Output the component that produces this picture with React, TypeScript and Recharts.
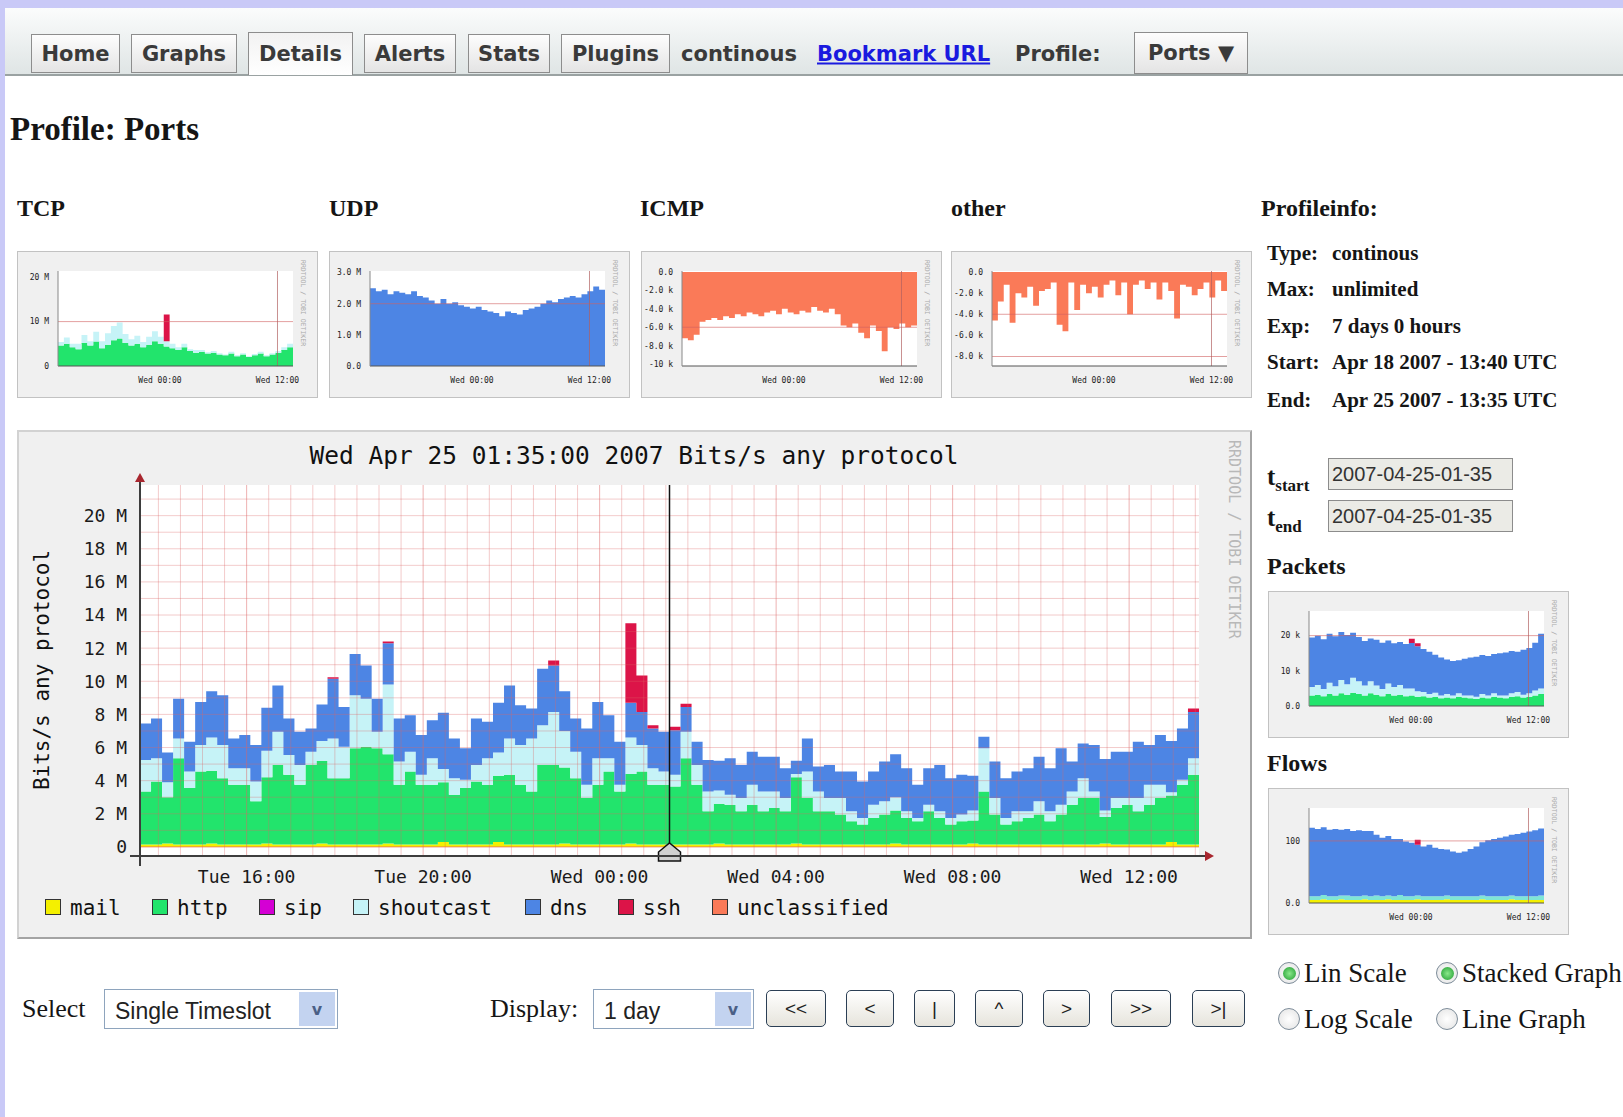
import React from "react";
import { AreaChart, Area, XAxis, YAxis, ReferenceLine, CartesianGrid } from "recharts";

const MONO = "'DejaVu Sans Mono', monospace";
const SERIF = "'Liberation Serif', 'Times New Roman', serif";
const SANS = "'DejaVu Sans', Verdana, sans-serif";
const ARIAL = "'Liberation Sans', Arial, sans-serif";

// main graph: minutes after Tue 13:35, one sample per 15 minutes
const stepMin = 15;
const spanMin = 1440;
const cursorMin = 720;
const timeTicks = [145, 385, 625, 865, 1105, 1345];
const timeLabels = ["Tue 16:00", "Tue 20:00", "Wed 00:00", "Wed 04:00", "Wed 08:00", "Wed 12:00"];
const valueTicks = [0, 2, 4, 6, 8, 10, 12, 14, 16, 18, 20];
const valueLabels = ["0", "2 M", "4 M", "6 M", "8 M", "10 M", "12 M", "14 M", "16 M", "18 M", "20 M"];

// Mbit/s per protocol
const mail = [
  0.15, 0.15, 0.2, 0.15, 0.15, 0.15, 0.2, 0.15, 0.15, 0.15,
  0.15, 0.2, 0.15, 0.15, 0.15, 0.15, 0.2, 0.15, 0.15, 0.15,
  0.15, 0.15, 0.2, 0.15, 0.15, 0.15, 0.15, 0.3, 0.15, 0.15,
  0.15, 0.15, 0.3, 0.15, 0.15, 0.15, 0.15, 0.15, 0.2, 0.15,
  0.15, 0.15, 0.15, 0.15, 0.2, 0.15, 0.15, 0.15, 0.15, 0.15,
  0.15, 0.15, 0.2, 0.15, 0.15, 0.15, 0.15, 0.15, 0.15, 0.2,
  0.15, 0.15, 0.15, 0.15, 0.15, 0.15, 0.15, 0.15, 0.2, 0.15,
  0.15, 0.15, 0.15, 0.15, 0.15, 0.2, 0.15, 0.15, 0.15, 0.15,
  0.15, 0.15, 0.15, 0.15, 0.15, 0.15, 0.15, 0.2, 0.15, 0.15,
  0.15, 0.15, 0.15, 0.3, 0.15, 0.15,
];
const http = [
  3.2, 3.8, 2.8, 5.2, 3.4, 4.4, 4.4, 4.0, 3.6, 3.6,
  2.6, 4.0, 4.8, 4.2, 3.6, 4.8, 5.0, 4.0, 4.0, 5.8,
  5.9, 5.8, 5.4, 3.6, 4.4, 3.6, 3.6, 3.6, 3.0, 3.4,
  3.8, 3.6, 4.0, 4.2, 3.6, 3.2, 4.8, 4.8, 4.6, 4.0,
  2.8, 3.6, 4.4, 3.2, 4.2, 4.4, 3.6, 3.6, 3.5, 5.2,
  3.6, 2.0, 2.4, 2.4, 2.0, 2.4, 2.0, 2.2, 2.0, 4.0,
  2.8, 2.0, 2.0, 1.8, 1.4, 1.2, 1.6, 1.8, 2.0, 1.6,
  1.4, 2.0, 1.6, 1.2, 1.4, 1.4, 3.2, 1.8, 1.2, 1.4,
  1.6, 1.8, 1.4, 1.8, 2.4, 2.8, 2.8, 1.6, 2.2, 2.4,
  2.0, 2.4, 2.8, 2.8, 3.6, 4.2,
];
const shoutcast = [
  1.9, 1.4, 0.9, 1.2, 1.0, 1.6, 2.0, 2.0, 1.0, 1.0,
  1.2, 1.6, 2.0, 1.2, 1.2, 0.8, 1.2, 2.4, 1.9, 3.2,
  2.9, 1.0, 4.2, 1.4, 1.2, 0.6, 1.6, 0.8, 1.0, 0.5,
  1.0, 1.6, 1.4, 2.2, 2.4, 3.2, 2.4, 3.2, 2.2, 1.6,
  0.8, 1.6, 0.8, 0.4, 2.2, 1.6, 1.0, 0.8, 0.7, 1.6,
  1.2, 1.2, 0.8, 0.6, 0.8, 1.2, 1.2, 1.0, 0.8, 0.2,
  1.6, 1.2, 0.8, 1.0, 0.6, 0.4, 0.8, 0.8, 0.8, 0.4,
  0.2, 0.4, 0.4, 0.4, 0.4, 0.6, 2.6, 1.0, 0.4, 0.6,
  0.4, 0.8, 0.6, 0.6, 0.8, 1.2, 0.4, 0.4, 0.6, 0.4,
  0.8, 1.2, 0.8, 0.2, 0.3, 1.0,
];
const dns = [
  2.2, 2.4, 1.8, 2.4, 1.8, 2.6, 2.8, 3.0, 1.8, 2.0,
  2.2, 2.6, 2.8, 2.2, 2.0, 1.4, 2.2, 3.6, 2.4, 2.5,
  2.0, 2.0, 2.5, 2.6, 2.2, 2.4, 2.3, 3.4, 2.4, 1.9,
  2.8, 2.2, 3.0, 3.2, 2.4, 1.8, 3.4, 2.8, 2.4, 2.0,
  3.4, 3.4, 2.6, 2.6, 2.1, 2.0, 2.4, 2.4, 2.7, 1.5,
  1.4, 1.9, 1.8, 2.2, 2.0, 2.0, 2.1, 2.1, 1.8, 0.8,
  2.0, 1.5, 2.0, 1.6, 2.4, 2.2, 2.0, 2.4, 2.6, 2.6,
  2.0, 2.2, 2.8, 2.4, 2.4, 2.1, 0.7, 2.2, 2.4, 2.4,
  2.6, 2.7, 2.6, 3.4, 1.8, 2.1, 2.8, 3.1, 2.8, 2.8,
  3.4, 2.4, 3.0, 3.1, 3.1, 2.8,
];
const ssh = [
  0, 0, 0, 0, 0, 0, 0, 0, 0, 0,
  0, 0, 0, 0, 0, 0, 0, 0.1, 0, 0,
  0, 0, 0.1, 0, 0, 0, 0, 0, 0, 0,
  0, 0, 0, 0, 0, 0, 0, 0.3, 0, 0,
  0, 0, 0, 0, 4.8, 2.2, 0.2, 0, 0.2, 0.2,
  0, 0, 0, 0, 0, 0, 0, 0, 0, 0,
  0, 0, 0, 0, 0, 0, 0, 0, 0, 0,
  0, 0, 0, 0, 0, 0, 0, 0, 0, 0,
  0, 0, 0, 0, 0, 0, 0, 0, 0, 0,
  0, 0, 0, 0, 0, 0.2,
];

const COLORS: Record<string, string> = {
  mail: "#f4f000",
  http: "#22e46c",
  sip: "#d400d4",
  shoutcast: "#c6f3f7",
  dns: "#4d85e4",
  ssh: "#dc1448",
  unclassified: "#fa7a58",
};
const legendNames = ["mail", "http", "sip", "shoutcast", "dns", "ssh", "unclassified"];
const legendX = [45, 152, 259, 353, 525, 618, 712];

// thumbnails: one sample per 36 minutes over the same day
const thumbStep = 36;
const thumbTicks = [625, 1345];
const thumbLabels = ["Wed 00:00", "Wed 12:00"];

const tcpHttp = [4.6, 5.0, 4.2, 3.8, 5.2, 4.6, 5.5, 4.0, 4.8, 5.8, 6.2, 5.2, 4.6, 5.0, 4.2, 4.8, 5.6, 5.0, 4.4, 4.0, 3.6, 4.2, 3.4, 3.0, 3.2, 2.8, 3.0, 2.6, 2.4, 2.8, 2.2, 2.6, 2.0, 2.4, 2.8, 2.2, 2.6, 3.0, 3.6, 4.2];
const tcpShout = [0.8, 1.4, 0.8, 1.2, 1.8, 1.0, 2.2, 1.6, 2.6, 3.2, 3.6, 2.0, 1.4, 1.8, 1.2, 1.8, 2.2, 1.6, 1.2, 1.0, 0.6, 0.8, 0.4, 0.6, 0.4, 0.3, 0.4, 0.3, 0.2, 0.4, 0.2, 0.3, 0.2, 0.3, 0.4, 0.2, 0.3, 0.4, 0.6, 0.8];
const tcpSsh = [0, 0, 0, 0, 0, 0, 0, 0, 0, 0, 0, 0, 0, 0, 0, 0, 0, 0, 6.0, 0, 0, 0, 0, 0, 0, 0, 0, 0, 0, 0, 0, 0, 0, 0, 0, 0, 0, 0, 0, 0];
const udpDns = [2.5, 2.4, 2.45, 2.3, 2.4, 2.35, 2.3, 2.4, 2.25, 2.2, 2.1, 2.0, 2.15, 2.0, 2.05, 1.95, 1.9, 1.85, 1.9, 1.8, 1.75, 1.7, 1.6, 1.75, 1.7, 1.65, 1.8, 1.85, 1.9, 2.0, 2.1, 2.05, 2.15, 2.2, 2.25, 2.2, 2.3, 2.4, 2.55, 2.45];
const icmpOther = [-7.2, -7.4, -6.8, -5.4, -5.2, -5.0, -5.2, -4.8, -5.0, -4.6, -4.8, -4.4, -4.6, -4.8, -4.4, -4.2, -4.6, -4.0, -4.4, -4.6, -4.2, -4.4, -3.8, -4.2, -4.4, -4.0, -4.6, -5.8, -6.0, -5.6, -6.6, -7.2, -5.8, -6.4, -8.6, -6.0, -6.2, -5.6, -6.0, -5.8];
const otherOther = [-4.6, -2.8, -1.2, -4.8, -2.0, -2.4, -1.4, -3.2, -1.8, -1.6, -1.0, -5.0, -5.6, -1.0, -3.6, -1.2, -2.0, -1.4, -2.4, -1.2, -0.8, -2.2, -1.0, -4.0, -1.2, -0.8, -1.6, -1.0, -2.6, -1.0, -1.8, -4.4, -1.2, -1.4, -2.2, -1.6, -1.0, -2.4, -0.8, -1.8];
const pktHttp = [3.0, 3.2, 2.8, 3.4, 3.0, 3.6, 3.2, 3.8, 3.4, 3.0, 3.6, 3.2, 2.8, 3.4, 3.0, 3.2, 2.8, 3.0, 2.6, 2.8, 2.4, 2.6, 2.2, 2.4, 2.2, 2.6, 2.4, 2.2, 2.0, 2.4, 2.2, 2.6, 2.4, 2.2, 2.6, 2.8, 2.4, 2.6, 3.0, 3.4];
const pktShout = [2.4, 2.8, 2.0, 3.2, 2.6, 3.8, 3.0, 4.2, 3.6, 2.8, 3.4, 2.6, 2.0, 3.0, 2.4, 2.8, 2.2, 2.0, 1.6, 1.2, 1.0, 1.2, 0.8, 1.0, 0.8, 1.0, 0.6, 0.8, 0.6, 1.0, 0.8, 1.0, 0.6, 0.8, 1.0, 1.2, 0.8, 1.0, 1.4, 1.6];
const pktDns = [14.1, 14.0, 14.2, 13.9, 14.2, 13.6, 14.0, 12.8, 12.6, 12.7, 12.2, 13.0, 13.2, 12.2, 12.4, 12.2, 12.6, 12.9, 12.8, 12.2, 12.0, 10.8, 10.8, 9.8, 9.8, 9.4, 10.4, 10.8, 11.4, 11.1, 11.2, 11.2, 12.0, 12.2, 12.0, 11.4, 12.8, 12.9, 13.6, 15.5];
const pktSsh = [0, 0, 0, 0, 0, 0, 0, 0, 0, 0, 0, 0, 0, 0, 0, 0, 0, 1.2, 0.8, 0, 0, 0, 0, 0, 0, 0, 0, 0, 0, 0, 0, 0, 0, 0, 0, 0, 0, 0, 0, 0];
const flowMail = [5, 5, 6, 5, 5, 6, 5, 5, 5, 6, 5, 5, 5, 6, 5, 5, 5, 5, 6, 5, 5, 5, 5, 6, 5, 5, 5, 5, 5, 6, 5, 5, 5, 5, 6, 5, 5, 5, 5, 5];
const flowShout = [6, 6, 7, 6, 6, 6, 7, 6, 6, 6, 6, 7, 6, 6, 6, 8, 6, 6, 6, 6, 6, 6, 6, 6, 6, 6, 6, 6, 6, 6, 6, 6, 6, 6, 6, 6, 6, 6, 6, 7];
const flowDns = [110, 108, 109, 107, 108, 106, 107, 105, 106, 104, 105, 98, 94, 96, 92, 90, 88, 86, 82, 80, 83, 78, 76, 74, 72, 70, 72, 76, 80, 86, 90, 92, 94, 96, 98, 100, 102, 104, 106, 108];
const flowSsh = [0, 0, 0, 0, 0, 0, 0, 0, 0, 0, 0, 0, 0, 0, 0, 0, 0, 0, 8, 0, 0, 0, 0, 0, 0, 0, 0, 0, 0, 0, 0, 0, 0, 0, 0, 0, 0, 0, 0, 0];

type Layer = { key: string; color: string; values: number[] };

function buildTable(layers: Layer[], step: number) {
  const rows = layers[0].values.map((_, i) => {
    const row: Record<string, number> = { t: i * step };
    layers.forEach((l) => (row[l.key] = l.values[i]));
    return row;
  });
  rows.push({ ...rows[rows.length - 1], t: spanMin });
  return rows;
}

const mainLayers: Layer[] = [
  { key: "mail", color: COLORS.mail, values: mail },
  { key: "http", color: COLORS.http, values: http },
  { key: "shoutcast", color: COLORS.shoutcast, values: shoutcast },
  { key: "dns", color: COLORS.dns, values: dns },
  { key: "ssh", color: COLORS.ssh, values: ssh },
];
const mainData = buildTable(mainLayers, stepMin);
const hGrid = Array.from({ length: 21 }, (_, i) => i + 1);
const vGrid = Array.from({ length: 48 }, (_, i) => 25 + i * 30);

const T = ({ x, y, s, f = SERIF, w = 700, c = "#151515", center = false, children, style }: any) => (
  <div
    style={{
      position: "absolute",
      left: x,
      top: y,
      fontSize: s,
      fontFamily: f,
      fontWeight: w,
      color: c,
      lineHeight: 1,
      whiteSpace: "nowrap",
      transform: center ? "translate(-50%,-50%)" : "translateY(-50%)",
      ...style,
    }}
  >
    {children}
  </div>
);

const XTick = ({ x, y, payload }: any) => (
  <text x={x} y={y + 27} textAnchor="middle" fontFamily={MONO} fontSize={18} fill="#1a1a1a">
    {timeLabels[timeTicks.indexOf(payload.value)]}
  </text>
);
const YTick = ({ x, y, payload }: any) => (
  <text x={x - 13} y={y} dy="0.36em" textAnchor="end" fontFamily={MONO} fontSize={18} fill="#1a1a1a">
    {valueLabels[valueTicks.indexOf(payload.value)]}
  </text>
);

const CursorMark = (props: any) => {
  const vb = props.viewBox || {};
  const x = vb.x;
  const y = (vb.y || 0) + (vb.height || 0);
  return (
    <path
      d={`M${x - 11},${y + 5} L${x - 11},${y - 4} L${x},${y - 13} L${x + 11},${y - 4} L${x + 11},${y + 5} Z`}
      fill="#cfcfcf"
      stroke="#111"
      strokeWidth={1.5}
    />
  );
};

function MainGraph() {
  return (
    <div
      style={{
        position: "absolute",
        left: 17,
        top: 430,
        width: 1235,
        height: 509,
        boxSizing: "border-box",
        background: "#f0f0f0",
        borderTop: "2px solid #d2d2d2",
        borderLeft: "2px solid #d2d2d2",
        borderRight: "2px solid #a4a4a4",
        borderBottom: "2px solid #a4a4a4",
      }}
    >
      <AreaChart width={1231} height={505} data={mainData} margin={{ top: 53, right: 51, bottom: 51, left: 61 }}>
        <CartesianGrid fill="#ffffff" horizontal={false} vertical={false} />
        <XAxis
          type="number"
          dataKey="t"
          domain={[0, spanMin]}
          ticks={timeTicks}
          tick={<XTick />}
          interval={0}
          axisLine={false}
          tickLine={false}
          tickSize={0}
          tickMargin={0}
          height={30}
          allowDataOverflow
        />
        <YAxis
          type="number"
          domain={[-0.55, 21.85]}
          ticks={valueTicks}
          tick={<YTick />}
          interval={0}
          axisLine={false}
          tickLine={false}
          tickSize={0}
          tickMargin={0}
          width={60}
          allowDataOverflow
        />
        {mainLayers.map((l) => (
          <Area
            key={l.key}
            type="stepAfter"
            dataKey={l.key}
            stackId="main"
            fill={l.color}
            fillOpacity={1}
            stroke="none"
            isAnimationActive={false}
            dot={false}
            activeDot={false}
          />
        ))}
        {hGrid.map((v) => (
          <ReferenceLine key={"h" + v} y={v} stroke="#dd6666" strokeOpacity={0.34} />
        ))}
        {vGrid.map((v) => (
          <ReferenceLine key={"v" + v} x={v} stroke="#dd6666" strokeOpacity={timeTicks.includes(v) ? 0.5 : 0.34} />
        ))}
        <ReferenceLine y={0} stroke="#e87050" strokeOpacity={0.8} />
        <ReferenceLine x={cursorMin} stroke="#111" strokeWidth={1.5} label={(p: any) => <CursorMark {...p} />} />
      </AreaChart>
    </div>
  );
}

function Thumb({
  left,
  top,
  layers,
  domain,
  ticks,
  labels,
  lines,
}: {
  left: number;
  top: number;
  layers: Layer[];
  domain: [number, number];
  ticks: number[];
  labels: string[];
  lines: number[];
}) {
  const data = buildTable(layers, thumbStep);
  return (
    <div
      style={{
        position: "absolute",
        left,
        top,
        width: 301,
        height: 147,
        boxSizing: "border-box",
        background: "#f0f0f0",
        border: "1px solid #c2c2c2",
      }}
    >
      <AreaChart width={299} height={145} data={data} margin={{ top: 19, right: 24, bottom: 0, left: 0 }}>
        <CartesianGrid fill="#ffffff" horizontal={false} vertical={false} />
        <XAxis
          type="number"
          dataKey="t"
          domain={[0, spanMin]}
          ticks={thumbTicks}
          tickFormatter={(v: number) => thumbLabels[thumbTicks.indexOf(v)]}
          interval={0}
          tick={{ fontFamily: MONO, fontSize: 8, fill: "#222" }}
          axisLine={{ stroke: "#555" }}
          tickLine={false}
          tickMargin={5}
          height={31}
        />
        <YAxis
          type="number"
          domain={domain}
          ticks={ticks}
          tickFormatter={(v: number) => labels[ticks.indexOf(v)]}
          interval={0}
          tick={{ fontFamily: MONO, fontSize: 8, fill: "#222" }}
          axisLine={{ stroke: "#888" }}
          tickLine={false}
          tickMargin={3}
          width={40}
          allowDataOverflow
        />
        {layers.map((l) => (
          <Area
            key={l.key}
            type="stepAfter"
            dataKey={l.key}
            stackId="s"
            fill={l.color}
            fillOpacity={1}
            stroke="none"
            isAnimationActive={false}
            dot={false}
            activeDot={false}
          />
        ))}
        {lines.map((v) => (
          <ReferenceLine key={v} y={v} stroke="#d06060" strokeOpacity={0.6} />
        ))}
        <ReferenceLine x={1345} stroke="#b06060" strokeOpacity={0.7} />
      </AreaChart>
      <div
        style={{
          position: "absolute",
          left: 281,
          top: 8,
          writingMode: "vertical-rl",
          fontFamily: MONO,
          fontSize: 6.5,
          color: "#aaa",
          whiteSpace: "nowrap",
        }}
      >
        RRDTOOL / TOBI OETIKER
      </div>
    </div>
  );
}

const tabStyle = (x: number, w: number, active = false): React.CSSProperties => ({
  position: "absolute",
  left: x,
  top: active ? 32 : 34,
  width: w,
  height: active ? 43 : 39,
  boxSizing: "border-box",
  border: "1px solid #8d8d8d",
  borderBottom: active ? "none" : "1px solid #8d8d8d",
  background: active ? "linear-gradient(#f2f2f2, #ffffff)" : "linear-gradient(#fdfdfd, #e4e4e4)",
  fontFamily: SANS,
  fontWeight: 700,
  fontSize: 21,
  color: "#3a3a3a",
  display: "flex",
  alignItems: "center",
  justifyContent: "center",
});

const btnStyle = (x: number, w: number): React.CSSProperties => ({
  position: "absolute",
  left: x,
  top: 990,
  width: w,
  height: 37,
  boxSizing: "border-box",
  border: "1.5px solid #2b3f55",
  borderRadius: 5,
  background: "linear-gradient(#ffffff, #e6e4dc)",
  fontFamily: ARIAL,
  fontSize: 19,
  color: "#222",
  display: "flex",
  alignItems: "center",
  justifyContent: "center",
});

const Radio = ({ x, y, on }: { x: number; y: number; on: boolean }) => (
  <div
    style={{
      position: "absolute",
      left: x - 11,
      top: y - 11,
      width: 22,
      height: 22,
      boxSizing: "border-box",
      borderRadius: "50%",
      border: "1.5px solid #7d8c99",
      background: "radial-gradient(#ffffff, #e2e2e2)",
      display: "flex",
      alignItems: "center",
      justifyContent: "center",
    }}
  >
    {on && <div style={{ width: 13, height: 13, borderRadius: "50%", background: "radial-gradient(#8ae88a, #1d9a2d)" }} />}
  </div>
);

const SelectBox = ({ x, w, text }: { x: number; w: number; text: string }) => (
  <div
    style={{
      position: "absolute",
      left: x,
      top: 989,
      width: w,
      height: 40,
      boxSizing: "border-box",
      border: "1px solid #8ea4bd",
      background: "#fff",
    }}
  >
    <div style={{ position: "absolute", left: 10, top: 8, fontFamily: ARIAL, fontSize: 23, color: "#222", whiteSpace: "nowrap" }}>{text}</div>
    <div
      style={{
        position: "absolute",
        right: 2,
        top: 2,
        width: 36,
        height: 34,
        background: "#c3d3f0",
        color: "#4a5f86",
        fontFamily: SANS,
        fontWeight: 700,
        fontSize: 16,
        display: "flex",
        alignItems: "center",
        justifyContent: "center",
      }}
    >
      v
    </div>
  </div>
);

export default function App() {
  return (
    <div style={{ position: "relative", width: 1623, height: 1117, overflow: "hidden", background: "#fff" }}>
      <style>{"body{margin:0;}"}</style>
      <div style={{ position: "absolute", left: 0, top: 0, width: 1623, height: 8, background: "#c9c9f7" }} />
      <div style={{ position: "absolute", left: 0, top: 0, width: 5, height: 1117, background: "#c9c9f7" }} />

      {/* navigation bar */}
      <div
        style={{
          position: "absolute",
          left: 5,
          top: 8,
          width: 1618,
          height: 66,
          background: "linear-gradient(#fbfcfc, #dfe5e5)",
          borderBottom: "2px solid #9aa2a2",
        }}
      />
      <div style={tabStyle(31, 89)}>Home</div>
      <div style={tabStyle(131, 106)}>Graphs</div>
      <div style={tabStyle(248, 105, true)}>Details</div>
      <div style={tabStyle(364, 92)}>Alerts</div>
      <div style={tabStyle(468, 82)}>Stats</div>
      <div style={tabStyle(561, 109)}>Plugins</div>
      <T x={681} y={54} s={21} f={SANS} c="#3a3a3a">continous</T>
      <T x={817} y={54} s={21} f={SANS} c="#1a1adf" style={{ textDecoration: "underline" }}>Bookmark URL</T>
      <T x={1015} y={54} s={21} f={SANS} c="#3a3a3a">Profile:</T>
      <div style={{ ...tabStyle(1134, 114), top: 32, height: 42 }}>Ports ▼</div>

      <T x={10} y={129} s={33}>Profile: Ports</T>

      <T x={17} y={208} s={24}>TCP</T>
      <T x={329} y={208} s={24}>UDP</T>
      <T x={640} y={208} s={24}>ICMP</T>
      <T x={951} y={208} s={24}>other</T>
      <T x={1261} y={208} s={24}>Profileinfo:</T>

      <Thumb
        left={17}
        top={251}
        layers={[
          { key: "http", color: COLORS.http, values: tcpHttp },
          { key: "shoutcast", color: COLORS.shoutcast, values: tcpShout },
          { key: "ssh", color: COLORS.ssh, values: tcpSsh },
        ]}
        domain={[0, 21.4]}
        ticks={[0, 10, 20]}
        labels={["0", "10 M", "20 M"]}
        lines={[10]}
      />
      <Thumb
        left={329}
        top={251}
        layers={[{ key: "dns", color: COLORS.dns, values: udpDns }]}
        domain={[0, 3.05]}
        ticks={[0, 1, 2, 3]}
        labels={["0.0", "1.0 M", "2.0 M", "3.0 M"]}
        lines={[2]}
      />
      <Thumb
        left={641}
        top={251}
        layers={[{ key: "unclassified", color: COLORS.unclassified, values: icmpOther }]}
        domain={[-10.2, 0.1]}
        ticks={[0, -2, -4, -6, -8, -10]}
        labels={["0.0", "-2.0 k", "-4.0 k", "-6.0 k", "-8.0 k", "-10 k"]}
        lines={[-6]}
      />
      <Thumb
        left={951}
        top={251}
        layers={[{ key: "unclassified", color: COLORS.unclassified, values: otherOther }]}
        domain={[-8.9, 0.1]}
        ticks={[0, -2, -4, -6, -8]}
        labels={["0.0", "-2.0 k", "-4.0 k", "-6.0 k", "-8.0 k"]}
        lines={[-4, -8]}
      />

      {/* profile info */}
      <T x={1267} y={253} s={21}>Type:</T>
      <T x={1332} y={253} s={21}>continous</T>
      <T x={1267} y={289} s={21}>Max:</T>
      <T x={1332} y={289} s={21}>unlimited</T>
      <T x={1267} y={326} s={21}>Exp:</T>
      <T x={1332} y={326} s={21}>7 days 0 hours</T>
      <T x={1267} y={362} s={21}>Start:</T>
      <T x={1332} y={362} s={21}>Apr 18 2007 - 13:40 UTC</T>
      <T x={1267} y={400} s={21}>End:</T>
      <T x={1332} y={400} s={21}>Apr 25 2007 - 13:35 UTC</T>

      <T x={1267} y={476} s={25}>
        t<span style={{ fontSize: 17, position: "relative", top: 6 }}>start</span>
      </T>
      <T x={1267} y={517} s={25}>
        t<span style={{ fontSize: 17, position: "relative", top: 6 }}>end</span>
      </T>
      {[458, 500].map((y) => (
        <div
          key={y}
          style={{
            position: "absolute",
            left: 1328,
            top: y,
            width: 185,
            height: 32,
            boxSizing: "border-box",
            border: "1px solid #8c8c8c",
            background: "#ebebe6",
            fontFamily: ARIAL,
            fontSize: 20,
            color: "#333",
            padding: "4px 0 0 3px",
          }}
        >
          2007-04-25-01-35
        </div>
      ))}

      <T x={1267} y={566} s={24}>Packets</T>
      <Thumb
        left={1268}
        top={591}
        layers={[
          { key: "http", color: COLORS.http, values: pktHttp },
          { key: "shoutcast", color: COLORS.shoutcast, values: pktShout },
          { key: "dns", color: COLORS.dns, values: pktDns },
          { key: "ssh", color: COLORS.ssh, values: pktSsh },
        ]}
        domain={[0, 27]}
        ticks={[0, 10, 20]}
        labels={["0.0", "10 k", "20 k"]}
        lines={[20]}
      />
      <T x={1267} y={763} s={24}>Flows</T>
      <Thumb
        left={1268}
        top={788}
        layers={[
          { key: "mail", color: COLORS.mail, values: flowMail },
          { key: "shoutcast", color: "#7fe6d6", values: flowShout },
          { key: "dns", color: COLORS.dns, values: flowDns },
          { key: "ssh", color: COLORS.ssh, values: flowSsh },
        ]}
        domain={[0, 153]}
        ticks={[0, 100]}
        labels={["0.0", "100"]}
        lines={[100]}
      />

      <MainGraph />

      {/* rrdtool decorations of the main graph */}
      <T x={634} y={456} s={24.5} f={MONO} w={400} c="#111" center>
        Wed Apr 25 01:35:00 2007 Bits/s any protocol
      </T>
      <div
        style={{
          position: "absolute",
          left: 32,
          top: 670,
          transform: "translateY(-50%) rotate(180deg)",
          writingMode: "vertical-rl",
          fontFamily: MONO,
          fontSize: 21,
          color: "#111",
          whiteSpace: "nowrap",
          lineHeight: 1,
        }}
      >
        Bits/s any protocol
      </div>
      <div
        style={{
          position: "absolute",
          left: 1226,
          top: 440,
          writingMode: "vertical-rl",
          fontFamily: MONO,
          fontSize: 15,
          color: "#b8b8b8",
          whiteSpace: "nowrap",
          lineHeight: 1,
        }}
      >
        RRDTOOL / TOBI OETIKER
      </div>
      <svg style={{ position: "absolute", left: 0, top: 0 }} width={1623} height={1117} pointerEvents="none">
        <line x1={130} y1={856} x2={1206} y2={856} stroke="#3d3d3d" strokeWidth={2} />
        <polygon points="1205,851 1214,856 1205,861" fill="#a8262e" />
        <line x1={140} y1={866} x2={140} y2={480} stroke="#3d3d3d" strokeWidth={2} />
        <polygon points="135,482 140,473 145,482" fill="#a8262e" />
      </svg>
      {legendNames.map((n, i) => (
        <React.Fragment key={n}>
          <div
            style={{
              position: "absolute",
              left: legendX[i],
              top: 899,
              width: 16,
              height: 16,
              boxSizing: "border-box",
              border: "1.5px solid #333",
              background: COLORS[n],
            }}
          />
          <T x={legendX[i] + 25} y={908} s={21} f={MONO} w={400} c="#111">
            {n}
          </T>
        </React.Fragment>
      ))}

      {/* controls */}
      <Radio x={1289} y={973} on />
      <T x={1304} y={973} s={27} w={400}>Lin Scale</T>
      <Radio x={1447} y={973} on />
      <T x={1462} y={973} s={27} w={400}>Stacked Graph</T>
      <Radio x={1289} y={1019} on={false} />
      <T x={1304} y={1019} s={27} w={400}>Log Scale</T>
      <Radio x={1447} y={1019} on={false} />
      <T x={1462} y={1019} s={27} w={400}>Line Graph</T>

      <T x={22} y={1009} s={26} w={400}>Select</T>
      <SelectBox x={104} w={234} text="Single Timeslot" />
      <T x={490} y={1009} s={26} w={400}>Display:</T>
      <SelectBox x={593} w={161} text="1 day" />
      <div style={btnStyle(766, 60)}>&lt;&lt;</div>
      <div style={btnStyle(846, 48)}>&lt;</div>
      <div style={btnStyle(914, 41)}>|</div>
      <div style={btnStyle(975, 48)}>^</div>
      <div style={btnStyle(1043, 47)}>&gt;</div>
      <div style={btnStyle(1111, 60)}>&gt;&gt;</div>
      <div style={btnStyle(1192, 53)}>&gt;|</div>
    </div>
  );
}
